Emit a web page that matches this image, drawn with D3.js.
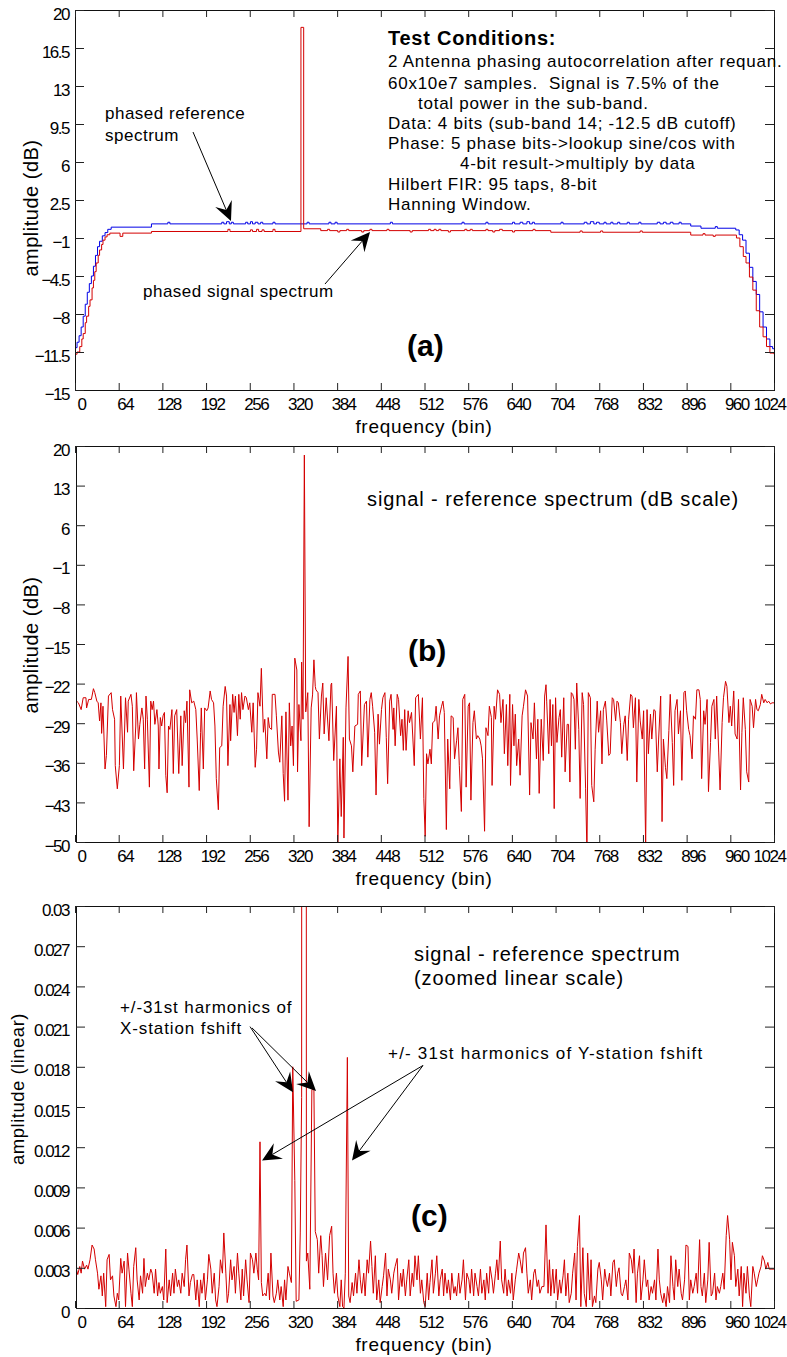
<!DOCTYPE html>
<html><head><meta charset="utf-8">
<script src="https://cdn.jsdelivr.net/npm/d3@7"></script>
<style>
body{margin:0;background:#fff;}
svg{display:block;font-family:"Liberation Sans",Arial,Helvetica,sans-serif;}
</style></head><body><svg id="chart" width="787" height="1357"></svg>
<script>
// ---------- data ----------
const binTicks = [0,64,128,192,256,320,384,448,512,576,640,704,768,832,896,960,1024];
const binLabels = ["0","64","128","192","256","320","384","448","512","576","640","704","768","832","896","960","1024"];

const aTicks = [20,16.5,13,9.5,6,2.5,-1,-4.5,-8,-11.5,-15];
const aTickLabels = ["20","16.5","13","9.5","6","2.5","\u22121","\u22124.5","\u22128","\u221211.5","\u221215"];
const bTicks = [20,13,6,-1,-8,-15,-22,-29,-36,-43,-50];
const bTickLabels = ["20","13","6","\u22121","\u22128","\u221215","\u221222","\u221229","\u221236","\u221243","\u221250"];
const cTicks = [0,0.003,0.006,0.009,0.012,0.015,0.018,0.021,0.024,0.027,0.03];
const cTickLabels = ["0","0.003","0.006","0.009","0.012","0.015","0.018","0.021","0.024","0.027","0.03"];

// phased reference spectrum (dB) [bin, value]
const refSpectrum = [[0,-11.1],[3,-10.6],[6,-10.0],[9,-9.2],[12,-8.2],[15,-7.1],[18,-6.0],[21,-5.2],[24,-4.5],[27,-3.6],[30,-2.6],[33,-1.8],[36,-1.3],[40,-0.8],[44,-0.5],[48,-0.2],[53,0.0],[112,0.3],[136,0.45],[139,0.3],[215,0.45],[218,0.3],[222,0.5],[226,0.3],[229,0.45],[232,0.3],[250,0.45],[253,0.3],[257,0.5],[260,0.3],[264,0.45],[268,0.3],[272,0.45],[275,0.3],[290,0.45],[293,0.3],[340,0.45],[343,0.3],[372,0.45],[375,0.3],[381,0.45],[384,0.3],[462,0.45],[465,0.3],[567,0.45],[570,0.3],[602,0.45],[605,0.3],[641,0.45],[644,0.3],[652,0.45],[656,0.3],[662,0.5],[666,0.3],[670,0.45],[673,0.3],[712,0.45],[715,0.3],[746,0.45],[750,0.3],[755,0.5],[760,0.3],[764,0.45],[768,0.3],[775,0.45],[778,0.3],[785,0.45],[788,0.3],[795,0.45],[798,0.3],[809,0.45],[812,0.3],[826,0.45],[829,0.3],[853,0.45],[857,0.3],[862,0.45],[866,0.3],[872,0.45],[876,0.3],[885,0.45],[888,0.3],[902,0.1],[917,-0.1],[938,0.05],[941,-0.1],[968,-0.26],[973,-0.7],[978,-1.2],[983,-2.4],[988,-3.7],[993,-5.0],[998,-6.2],[1003,-7.8],[1008,-9.2],[1013,-10.3],[1018,-11.0],[1022,-11.2],[1024,-11.2]];

// phased signal spectrum (dB) [bin, value]
const sigSpectrum = [[0,-11.7],[3,-11.5],[7,-11.0],[10,-10.3],[12,-9.8],[15,-8.8],[17,-8.2],[20,-7.3],[22,-6.7],[25,-5.6],[27,-4.9],[29,-4.1],[31,-3.3],[34,-2.6],[36,-2.1],[39,-1.6],[41,-1.2],[44,-0.9],[47,-0.7],[51,-0.55],[66,-0.85],[70,-0.55],[112,-0.4],[224,-0.2],[227,-0.4],[257,-0.25],[260,-0.4],[266,-0.2],[269,-0.4],[274,-0.25],[277,-0.4],[290,-0.2],[293,-0.4],[331,18.4],[335,-0.15],[360,-0.32],[370,-0.2],[373,-0.32],[385,-0.45],[388,-0.32],[398,-0.2],[401,-0.32],[420,-0.45],[423,-0.32],[432,-0.2],[435,-0.32],[457,-0.2],[460,-0.32],[491,-0.45],[494,-0.32],[518,-0.2],[521,-0.32],[526,-0.2],[529,-0.32],[533,-0.2],[536,-0.32],[547,-0.45],[550,-0.32],[571,-0.2],[574,-0.32],[579,-0.2],[582,-0.32],[602,-0.2],[605,-0.32],[612,-0.45],[615,-0.32],[622,-0.2],[626,-0.32],[641,-0.45],[644,-0.32],[671,-0.2],[674,-0.32],[697,-0.47],[740,-0.35],[743,-0.47],[770,-0.35],[773,-0.47],[828,-0.35],[831,-0.47],[902,-0.73],[920,-0.6],[923,-0.73],[935,-0.85],[938,-0.73],[969,-1.0],[974,-1.8],[979,-2.7],[983,-3.3],[988,-4.6],[993,-5.8],[998,-7.7],[1003,-9.2],[1008,-10.1],[1013,-11.0],[1018,-11.6],[1024,-11.7]];

// signal - reference spectrum (dB) [bin, value]
const diffDb = [[0,-24.8],[5,-25.4],[9,-26.6],[12,-24.5],[16,-24.5],[17,-26.3],[20,-24.8],[24,-24.8],[27,-22.9],[29,-23.6],[32,-25.1],[34,-25.4],[36,-28.6],[38,-25.4],[39,-30.8],[41,-26.0],[44,-37.1],[46,-34.7],[49,-24.2],[53,-23.6],[55,-26.6],[58,-28.3],[59,-36.5],[62,-40.6],[65,-36.5],[67,-24.2],[71,-37.1],[74,-24.5],[77,-30.6],[78,-25.1],[82,-23.9],[84,-26.0],[86,-37.4],[89,-29.5],[90,-23.6],[93,-31.8],[95,-29.2],[98,-26.3],[100,-28.3],[102,-37.1],[104,-24.2],[106,-28.3],[109,-40.3],[111,-25.1],[113,-26.6],[115,-25.1],[117,-29.2],[120,-26.6],[122,-29.5],[123,-37.1],[125,-28.0],[127,-29.5],[129,-27.7],[131,-27.1],[133,-38.2],[135,-41.3],[137,-29.5],[139,-30.1],[142,-26.6],[144,-37.9],[146,-27.7],[149,-26.6],[152,-37.9],[155,-27.7],[157,-36.5],[160,-26.8],[162,-28.9],[164,-25.1],[167,-40.3],[168,-23.1],[171,-25.4],[174,-25.1],[177,-26.6],[179,-31.8],[182,-40.9],[184,-30.6],[185,-26.3],[188,-37.1],[190,-26.3],[193,-26.8],[195,-26.3],[198,-23.3],[200,-24.8],[203,-25.4],[205,-29.5],[207,-38.8],[210,-44.3],[212,-33.3],[215,-33.0],[217,-26.0],[220,-22.5],[222,-24.2],[224,-36.5],[227,-25.7],[228,-32.1],[231,-23.9],[233,-27.1],[235,-24.2],[238,-31.2],[240,-23.9],[242,-28.3],[244,-23.6],[246,-26.6],[249,-24.2],[251,-24.5],[254,-26.6],[256,-25.4],[259,-30.6],[261,-25.4],[264,-36.8],[266,-33.6],[268,-23.6],[271,-26.0],[273,-19.3],[276,-30.6],[278,-28.3],[281,-35.3],[283,-28.0],[285,-29.8],[288,-30.1],[289,-23.9],[293,-23.9],[295,-27.7],[298,-34.1],[300,-35.9],[303,-27.7],[305,-37.9],[307,-42.8],[309,-27.0],[312,-42.6],[314,-25.4],[316,-33.0],[318,-29.5],[320,-36.5],[322,-17.5],[325,-19.6],[326,-37.6],[328,-25.7],[331,-32.1],[332,-18.2],[334,-28.3],[336,18.4],[338,-27.0],[341,-23.6],[343,-47.3],[346,-26.3],[348,-24.0],[350,-17.8],[352,-22.5],[353,-23.1],[356,-23.6],[358,-31.8],[361,-24.2],[363,-21.9],[365,-30.9],[368,-24.5],[372,-32.1],[375,-22.2],[376,-21.9],[379,-35.6],[383,-26.0],[385,-50.5],[388,-35.3],[390,-45.5],[393,-31.5],[394,-49.3],[397,-26.3],[400,-17.2],[402,-31.8],[405,-33.0],[407,-37.6],[410,-29.5],[414,-29.2],[415,-23.9],[418,-23.3],[420,-36.5],[424,-25.7],[427,-25.1],[429,-35.0],[432,-24.8],[434,-23.6],[436,-26.0],[439,-30.6],[441,-41.7],[444,-27.4],[446,-32.7],[449,-26.6],[451,-24.5],[454,-23.6],[456,-31.5],[458,-39.7],[461,-25.1],[463,-23.9],[466,-30.1],[467,-26.3],[469,-33.0],[472,-23.9],[474,-24.8],[477,-31.2],[479,-28.3],[481,-33.8],[483,-26.6],[485,-33.8],[488,-26.8],[490,-28.9],[493,-27.1],[495,-31.8],[497,-36.5],[499,-24.5],[501,-24.2],[503,-23.9],[506,-31.8],[509,-24.5],[511,-42.3],[513,-49.0],[515,-34.4],[517,-36.2],[520,-33.6],[522,-36.2],[524,-28.9],[527,-28.6],[529,-26.0],[532,-31.8],[534,-27.7],[537,-26.0],[539,-25.1],[541,-27.1],[544,-47.8],[546,-31.8],[549,-40.6],[551,-27.7],[554,-28.0],[556,-35.3],[559,-32.1],[561,-29.8],[563,-36.5],[566,-44.6],[568,-24.8],[571,-23.9],[573,-40.3],[576,-26.0],[578,-25.4],[580,-42.6],[583,-28.9],[585,-26.8],[588,-31.8],[590,-31.2],[593,-31.8],[595,-33.0],[597,-35.3],[600,-48.1],[602,-29.8],[605,-31.2],[607,-26.0],[610,-28.0],[611,-40.0],[614,-26.0],[616,-28.3],[619,-23.1],[622,-23.9],[624,-28.9],[627,-24.8],[629,-34.4],[632,-25.7],[634,-36.5],[637,-23.9],[638,-40.0],[641,-25.7],[643,-33.0],[645,-27.4],[647,-36.5],[650,-31.8],[652,-38.2],[655,-27.7],[657,-26.0],[660,-23.1],[663,-24.2],[666,-41.7],[668,-28.9],[671,-31.8],[673,-25.4],[676,-35.3],[678,-28.3],[680,-41.4],[683,-28.3],[686,-35.6],[688,-24.2],[690,-22.2],[691,-25.1],[694,-34.4],[696,-24.8],[698,-33.0],[700,-25.7],[702,-44.1],[704,-24.5],[706,-32.4],[709,-28.0],[711,-26.6],[713,-35.0],[716,-24.5],[718,-37.6],[721,-29.2],[723,-29.2],[725,-39.4],[727,-23.6],[729,-23.9],[731,-24.8],[733,-33.6],[735,-21.9],[738,-30.1],[740,-42.3],[743,-23.6],[745,-25.7],[748,-40.6],[750,-52.0],[752,-23.6],[755,-24.5],[757,-40.0],[760,-42.9],[762,-33.6],[765,-25.1],[767,-30.6],[770,-26.8],[772,-36.2],[774,-26.6],[777,-25.1],[779,-28.6],[782,-34.7],[784,-34.4],[787,-24.5],[789,-24.8],[792,-28.6],[794,-25.1],[796,-25.4],[799,-28.9],[801,-34.4],[804,-29.2],[806,-27.7],[809,-35.6],[811,-28.3],[814,-23.9],[816,-24.2],[818,-29.8],[821,-24.5],[823,-39.4],[826,-24.8],[828,-28.6],[831,-31.8],[833,-26.8],[836,-50.5],[838,-26.6],[840,-34.4],[843,-27.4],[845,-31.8],[848,-26.6],[850,-26.8],[853,-37.6],[855,-31.8],[858,-24.2],[860,-46.4],[862,-31.8],[865,-36.8],[867,-38.8],[870,-30.3],[872,-23.9],[875,-32.4],[877,-40.0],[879,-26.8],[882,-24.8],[884,-30.9],[887,-26.8],[889,-39.1],[892,-23.6],[894,-23.3],[896,-26.8],[899,-30.1],[901,-31.2],[904,-35.3],[906,-27.7],[909,-28.3],[911,-23.1],[914,-23.1],[916,-24.8],[918,-38.8],[921,-26.8],[923,-29.2],[926,-24.8],[928,-41.1],[931,-32.4],[933,-26.0],[936,-24.8],[938,-31.8],[940,-24.2],[943,-34.1],[945,-40.8],[948,-28.9],[950,-24.5],[953,-21.6],[955,-22.5],[958,-28.9],[960,-26.0],[962,-29.5],[965,-23.3],[967,-30.9],[970,-31.8],[972,-24.8],[975,-40.8],[977,-30.6],[979,-24.5],[982,-30.1],[984,-37.6],[987,-39.4],[989,-24.8],[992,-26.0],[994,-29.8],[997,-24.8],[999,-26.6],[1001,-26.8],[1004,-25.7],[1006,-23.9],[1009,-25.4],[1011,-24.8],[1014,-25.4],[1016,-25.1],[1019,-25.6],[1021,-25.4],[1024,-25.4]];

// signal - reference spectrum (linear) [bin, value]
const diffLinear = [[0,0.0031],[1,0.0031],[4,0.0025],[7,0.0031],[9,0.0026],[11,0.0035],[14,0.0029],[17,0.0032],[19,0.0029],[22,0.0036],[25,0.0047],[28,0.0044],[30,0.0036],[33,0.0026],[35,0.0014],[38,0.0024],[40,0.0009],[42,0.0026],[45,0.0001],[47,0.0036],[50,0.0040],[52,0.0021],[55,0.0024],[57,0.0009],[60,0.0001],[62,0.0011],[64,0.0006],[67,0.0037],[69,0.0026],[72,0.0035],[74,0.0001],[77,0.0041],[79,0.0029],[82,0.0011],[84,0.0001],[86,0.0031],[89,0.0045],[91,0.0021],[94,0.0006],[96,0.0024],[99,0.0011],[101,0.0037],[103,0.0016],[106,0.0026],[108,0.0021],[111,0.0029],[113,0.0026],[116,0.0011],[118,0.0029],[121,0.0009],[123,0.0019],[125,0.0011],[128,0.0016],[130,0.0006],[133,0.0044],[135,0.0004],[138,0.0021],[140,0.0009],[143,0.0026],[145,0.0011],[147,0.0029],[150,0.0016],[152,0.0021],[155,0.0011],[157,0.0026],[160,0.0016],[162,0.0036],[164,0.0047],[167,0.0009],[169,0.0019],[172,0.0025],[174,0.0025],[177,0.0006],[179,0.0021],[182,0.0001],[184,0.0021],[186,0.0011],[189,0.0026],[191,0.0006],[194,0.0021],[196,0.0040],[199,0.0029],[201,0.0011],[204,0.0026],[206,0.0006],[208,0.0001],[211,0.0016],[213,0.0036],[216,0.0026],[218,0.0056],[221,0.0026],[223,0.0004],[225,0.0011],[228,0.0036],[230,0.0021],[233,0.0031],[235,0.0011],[238,0.0041],[240,0.0026],[243,0.0006],[245,0.0029],[247,0.0009],[250,0.0036],[252,0.0021],[255,0.0004],[257,0.0041],[260,0.0036],[262,0.0026],[265,0.0041],[267,0.0029],[269,0.0021],[271,0.0124],[273,0.0019],[275,0.0009],[278,0.0011],[280,0.0009],[283,0.0026],[285,0.0006],[287,0.0041],[290,0.0009],[292,0.0004],[295,0.0011],[297,0.0021],[300,0.0006],[302,0.0016],[305,0.0001],[307,0.0021],[309,0.0006],[312,0.0031],[314,0.0026],[317,0.0019],[319,0.0180],[322,0.0095],[324,0.0005],[328,0.0006],[330,0.0056],[332,0.0157],[333,0.2],[336,69],[338,0.2],[339,0.0035],[341,0.0041],[344,0.0014],[347,0.0163],[350,0.0163],[352,0.0057],[355,0.0051],[357,0.0026],[360,0.0054],[362,0.0039],[364,0.0016],[367,0.0041],[370,0.0021],[373,0.0054],[376,0.0061],[378,0.0026],[380,0.0011],[383,0.0026],[385,0.0009],[388,0.0001],[390,0.0021],[392,0.0001],[394,0.0000],[396,0.0026],[399,0.0187],[401,0.0009],[403,0.0004],[406,0.0019],[408,0.0009],[411,0.0026],[413,0.0011],[416,0.0036],[418,0.0021],[420,0.0011],[423,0.0026],[425,0.0009],[428,0.0036],[430,0.0026],[433,0.0050],[435,0.0031],[437,0.0011],[440,0.0039],[442,0.0006],[445,0.0021],[447,0.0004],[450,0.0016],[452,0.0024],[455,0.0041],[457,0.0009],[459,0.0029],[462,0.0021],[464,0.0011],[467,0.0026],[469,0.0031],[472,0.0037],[474,0.0006],[477,0.0026],[479,0.0016],[481,0.0029],[484,0.0009],[486,0.0021],[489,0.0036],[491,0.0009],[494,0.0026],[496,0.0016],[498,0.0039],[501,0.0021],[503,0.0039],[506,0.0011],[508,0.0021],[511,0.0004],[513,0.0001],[516,0.0026],[518,0.0006],[520,0.0019],[523,0.0036],[525,0.0011],[528,0.0026],[530,0.0039],[533,0.0009],[535,0.0021],[538,0.0029],[540,0.0009],[542,0.0026],[545,0.0011],[547,0.0021],[550,0.0006],[552,0.0026],[555,0.0011],[557,0.0016],[559,0.0009],[562,0.0026],[564,0.0011],[567,0.0021],[569,0.0036],[572,0.0006],[574,0.0026],[577,0.0021],[579,0.0011],[581,0.0029],[584,0.0009],[586,0.0026],[589,0.0016],[591,0.0009],[594,0.0029],[596,0.0011],[599,0.0021],[601,0.0006],[603,0.0026],[606,0.0011],[608,0.0031],[611,0.0021],[613,0.0011],[616,0.0026],[618,0.0036],[620,0.0021],[623,0.0050],[625,0.0021],[628,0.0011],[630,0.0029],[633,0.0009],[635,0.0021],[638,0.0011],[640,0.0026],[642,0.0006],[645,0.0021],[647,0.0029],[650,0.0041],[652,0.0036],[655,0.0026],[657,0.0041],[660,0.0045],[662,0.0026],[664,0.0011],[667,0.0021],[669,0.0006],[672,0.0026],[674,0.0029],[677,0.0016],[679,0.0021],[681,0.0011],[684,0.0016],[687,0.0016],[690,0.0062],[693,0.0011],[695,0.0036],[697,0.0009],[700,0.0029],[702,0.0011],[705,0.0029],[707,0.0006],[710,0.0021],[712,0.0011],[715,0.0024],[717,0.0036],[719,0.0009],[722,0.0026],[724,0.0004],[727,0.0011],[729,0.0026],[732,0.0041],[734,0.0006],[736,0.0046],[739,0.0069],[741,0.0001],[744,0.0045],[746,0.0011],[749,0.0001],[751,0.0041],[754,0.0006],[756,0.0036],[758,0.0001],[761,0.0009],[763,0.0004],[766,0.0029],[768,0.0034],[771,0.0021],[773,0.0006],[776,0.0029],[778,0.0021],[780,0.0016],[783,0.0026],[785,0.0009],[788,0.0034],[790,0.0036],[793,0.0016],[795,0.0026],[797,0.0030],[800,0.0011],[802,0.0009],[805,0.0016],[807,0.0021],[810,0.0006],[812,0.0041],[815,0.0036],[817,0.0026],[819,0.0044],[822,0.0004],[824,0.0026],[827,0.0039],[829,0.0006],[832,0.0021],[834,0.0036],[837,0.0016],[839,0.0021],[841,0.0006],[844,0.0016],[846,0.0011],[849,0.0021],[851,0.0006],[854,0.0044],[856,0.0021],[858,0.0011],[861,0.0004],[863,0.0011],[866,0.0001],[868,0.0016],[871,0.0004],[873,0.0039],[876,0.0016],[878,0.0006],[880,0.0036],[883,0.0016],[885,0.0029],[888,0.0011],[890,0.0006],[893,0.0021],[895,0.0047],[898,0.0046],[900,0.0006],[902,0.0021],[905,0.0011],[907,0.0016],[910,0.0026],[912,0.0011],[915,0.0051],[917,0.0016],[919,0.0009],[922,0.0026],[924,0.0004],[927,0.0021],[929,0.0049],[932,0.0009],[934,0.0011],[937,0.0026],[939,0.0006],[941,0.0016],[944,0.0011],[946,0.0016],[949,0.0026],[951,0.0014],[954,0.0054],[956,0.0069],[959,0.0051],[961,0.0021],[963,0.0049],[966,0.0039],[968,0.0016],[971,0.0029],[973,0.0009],[976,0.0031],[978,0.0001],[980,0.0026],[983,0.0011],[985,0.0031],[988,0.0009],[990,0.0001],[993,0.0031],[995,0.0026],[998,0.0016],[1000,0.0021],[1002,0.0026],[1005,0.0031],[1007,0.0039],[1010,0.0035],[1012,0.0029],[1015,0.0034],[1017,0.0029],[1021,0.0029],[1024,0.0029]];

// annotation arrows, in data coordinates: [fromBin, fromValue, toBin, toValue]
const arrowsA = [[172.9,8.76,228.5,0.56],[366.2,-5.24,432.2,-0.45]];
const arrowsC = [[256.4,0.0210,319.4,0.0161],[259.3,0.0209,353.1,0.0162],[509.8,0.0181,274.0,0.0110],[509.8,0.0181,405.8,0.0110]];

// ---------- drawing ----------
const svg = d3.select('#chart');
const RED = '#d40000', BLUE = '#0000e6';
const x = d3.scaleLinear().domain([0,1024]).range([75,774]);
const RIGHT = 774;

function txt(s, px, py, size, opts={}) {
  const t = svg.append('text').attr('x',px).attr('y',py)
    .attr('font-size',size).attr('fill','#000')
    .style('white-space','pre')
    .text(s);
  if (opts.weight) t.attr('font-weight',opts.weight);
  if (opts.ls !== undefined) t.style('letter-spacing',opts.ls+'px');
  if (opts.anchor) t.attr('text-anchor',opts.anchor);
  if (opts.rotate) t.attr('transform',`rotate(-90,${px},${py})`);
  return t;
}

function arrow(g, x1,y1,x2,y2) {
  const dx=x2-x1, dy=y2-y1, len=Math.hypot(dx,dy);
  const ux=dx/len, uy=dy/len, nx=-uy, ny=ux;
  const L=19, W=9, N=12;
  g.append('line').attr('x1',x1).attr('y1',y1).attr('x2',x2-ux*N).attr('y2',y2-uy*N)
    .attr('stroke','#000').attr('stroke-width',1);
  const pts=[[x2,y2],[x2-ux*L+nx*W,y2-uy*L+ny*W],[x2-ux*N,y2-uy*N],[x2-ux*L-nx*W,y2-uy*L-ny*W]];
  g.append('polygon').attr('points',pts.map(p=>p.join(',')).join(' ')).attr('fill','#000');
}

function panel(p) {
  const y = d3.scaleLinear().domain(p.yDomain).range([p.bottom,p.top]);
  const g = svg.append('g');
  const cid = 'clip-'+p.name;
  svg.append('clipPath').attr('id',cid).append('rect')
    .attr('x',p.left).attr('y',p.top).attr('width',RIGHT-p.left).attr('height',p.bottom-p.top);
  p.series.forEach(s=>{
    g.append('path').datum(s.data).attr('clip-path',`url(#${cid})`)
      .attr('fill','none').attr('stroke',s.color).attr('stroke-width',1)
      .attr('stroke-linejoin','miter')
      .attr('d', d3.line().x(d=>x(d[0])).y(d=>y(d[1])).curve(s.curve||d3.curveLinear));
  });
  // frame
  g.append('rect').attr('x',p.left+0.5).attr('y',p.top+0.5)
    .attr('width',RIGHT-p.left).attr('height',p.bottom-p.top)
    .attr('fill','none').attr('stroke','#111').attr('stroke-width',1);
  const style = sel => {
    sel.select('.domain').remove();
    sel.selectAll('line').attr('stroke','#222');
    sel.attr('font-family',null).attr('font-size',17);
    sel.selectAll('text').style('letter-spacing','-1.5px').attr('fill','#000');
  };
  g.append('g').attr('transform',`translate(0,${p.bottom})`)
    .call(d3.axisBottom(x).tickValues(binTicks).tickSize(-7).tickFormat((d,i)=>binLabels[i]))
    .call(style)
    .call(a=>a.selectAll('text').attr('dy',null).attr('y',p.xLabelDy).attr('x',d=>d===1024?-5:6));
  g.append('g').attr('transform',`translate(0,${p.top})`)
    .call(d3.axisTop(x).tickValues(binTicks).tickSize(-7).tickFormat(''))
    .call(style);
  g.append('g').attr('transform',`translate(${p.left},0)`)
    .call(d3.axisLeft(y).tickValues(p.yTicks).tickSize(-9).tickPadding(p.left-69).tickFormat((d,i)=>p.yLabels[i]))
    .call(style)
    .call(a=>a.selectAll('text').attr('dy',null).attr('y',9));
  g.append('g').attr('transform',`translate(${RIGHT},0)`)
    .call(d3.axisRight(y).tickValues(p.yTicks).tickSize(-9).tickFormat(''))
    .call(style);
  // axis titles
  txt('frequency (bin)', 424, p.xTitleY, 19, {anchor:'middle', ls:0.7});
  txt(p.yTitle, p.yTitleX, p.yTitleY, p.yTitleSize, {anchor:'middle', ls:0.5, rotate:true});
  return {g, y};
}

// Panel (a)
const A = panel({name:'a', left:75, top:10, bottom:390, yDomain:[-15,20], yTicks:aTicks, yLabels:aTickLabels,
  xLabelDy:20, xTitleY:433, yTitle:'amplitude (dB)', yTitleX:38, yTitleY:208, yTitleSize:20,
  series:[{data:refSpectrum,color:BLUE,curve:d3.curveStepAfter},{data:sigSpectrum,color:RED,curve:d3.curveStepAfter}]});
arrowsA.forEach(a=>arrow(A.g, x(a[0]),A.y(a[1]),x(a[2]),A.y(a[3])));
txt('Test Conditions:', 388, 45, 20, {weight:'bold', ls:0.75});
const condLines = [
  ['2 Antenna phasing autocorrelation after requan.',388,67],
  ['60x10e7 samples.  Signal is 7.5% of the',388,89],
  ['total power in the sub-band.',418,109],
  ['Data: 4 bits (sub-band 14; -12.5 dB cutoff)',388,129],
  ['Phase: 5 phase bits->lookup sine/cos with',388,149],
  ['4-bit result->multiply by data',460,169],
  ['Hilbert FIR: 95 taps, 8-bit',388,190],
  ['Hanning Window.',388,210]
];
condLines.forEach(l=>txt(l[0],l[1],l[2],17,{ls:0.75}));
txt('phased reference',105,119,17,{ls:0.5});
txt('spectrum',105,141,17,{ls:0.5});
txt('phased signal spectrum',143,297,17,{ls:0.5});
txt('(a)',407,356,30,{weight:'bold'});

// Panel (b)
const B = panel({name:'b', left:76, top:446, bottom:842, yDomain:[-50,20], yTicks:bTicks, yLabels:bTickLabels,
  xLabelDy:20, xTitleY:885, yTitle:'amplitude (dB)', yTitleX:38, yTitleY:645, yTitleSize:20,
  series:[{data:diffDb,color:RED}]});
txt('signal - reference spectrum (dB scale)',367,506,20,{ls:0.9});
txt('(b)',408,661,30,{weight:'bold'});

// Panel (c)
const C = panel({name:'c', left:76, top:906, bottom:1308, yDomain:[0,0.03], yTicks:cTicks, yLabels:cTickLabels,
  xLabelDy:20, xTitleY:1351, yTitle:'amplitude (linear)', yTitleX:24, yTitleY:1089, yTitleSize:18.5,
  series:[{data:diffLinear,color:RED}]});
arrowsC.forEach(a=>arrow(C.g, x(a[0]),C.y(a[1]),x(a[2]),C.y(a[3])));
txt('signal - reference spectrum',414,961,20,{ls:0.9});
txt('(zoomed linear scale)',414,985,20,{ls:0.9});
txt('+/-31st harmonics of',120,1013,17,{ls:0.9});
txt('X-station fshift',120,1034,17,{ls:0.9});
txt('+/- 31st harmonics of Y-station fshift',388,1059,17,{ls:1.2});
txt('(c)',411,1226,30,{weight:'bold'});
</script></body></html>
